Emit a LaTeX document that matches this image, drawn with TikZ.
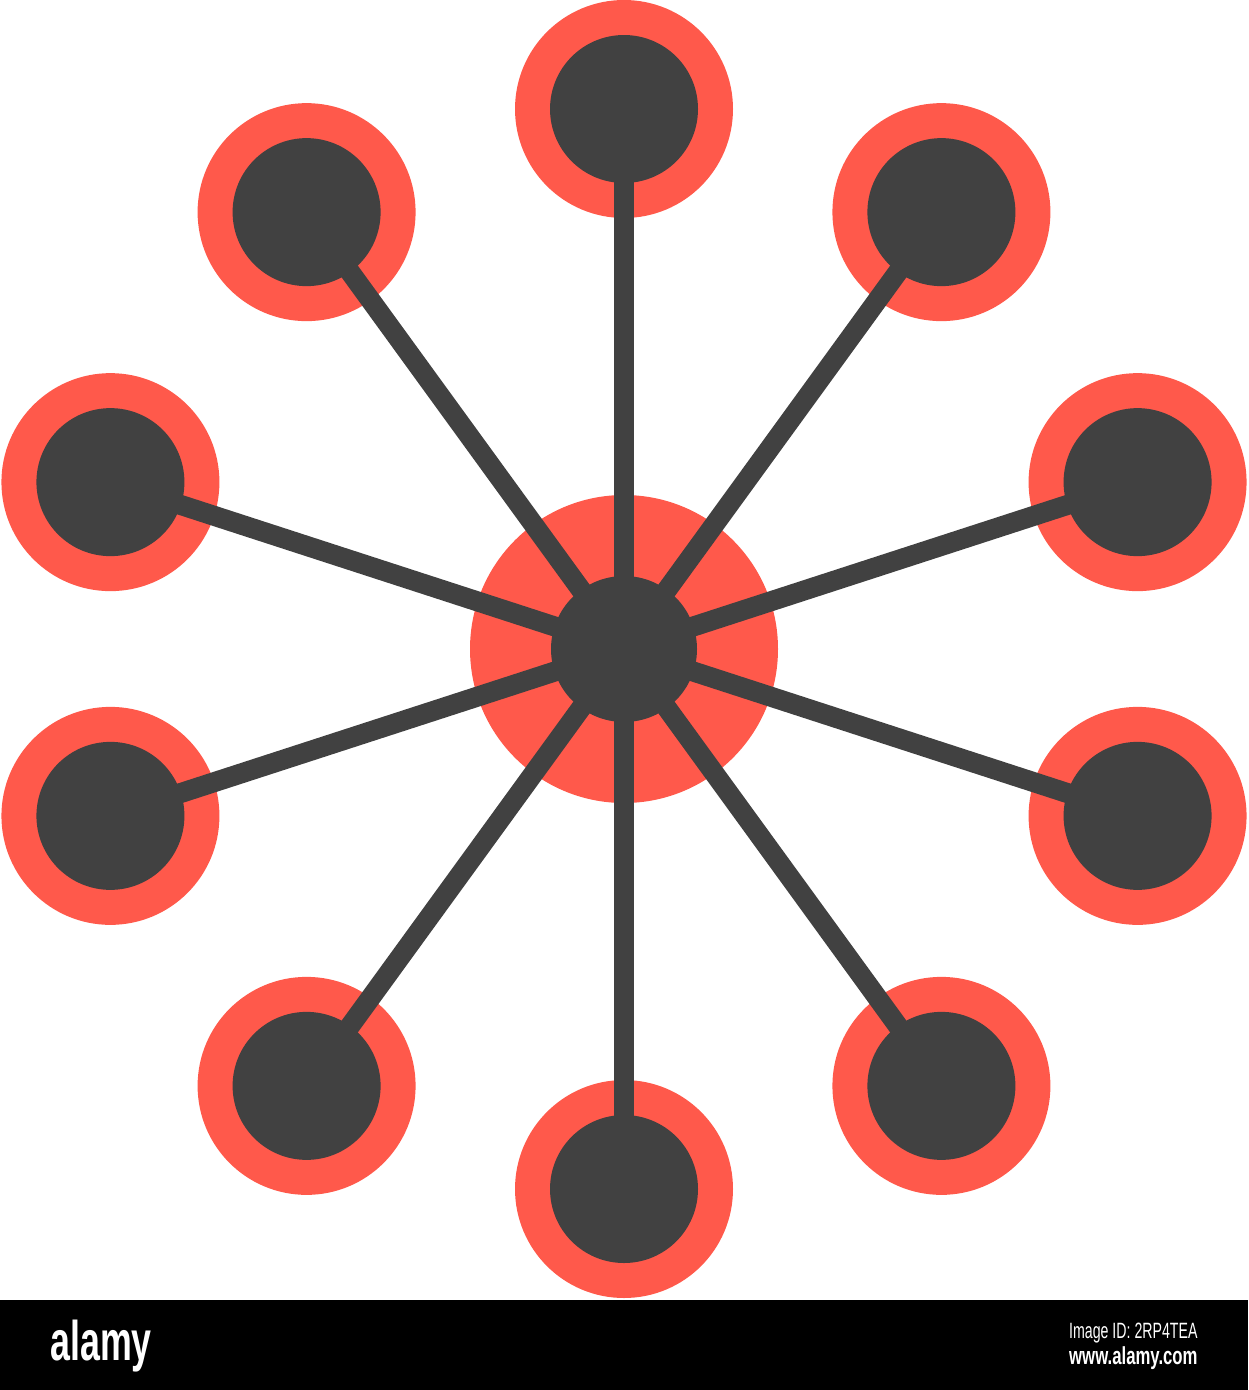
\documentclass[tikz,border=0pt]{standalone}
\usepackage{fontspec}
\setmainfont{Liberation Sans}
\usetikzlibrary{calc}
\definecolor{ringred}{RGB}{255,89,75}
\definecolor{hubgray}{RGB}{65,65,65}

\begin{document}
\begin{tikzpicture}[x=0.1mm,y=-0.1mm,
  reddisc/.style={circle,fill=ringred,inner sep=0pt,minimum size=21.8mm},
  darkdisc/.style={circle,fill=hubgray,inner sep=0pt,minimum size=14.8mm},
  spoke/.style={hubgray,line width=2mm}]
\useasboundingbox (0,0) rectangle (1248,1390);

\node[reddisc,minimum size=30.8mm] (C) at (624,649) {};
\foreach \i in {0,...,9}
  \node[reddisc] (R\i) at ($(C)+(90+36*\i:540)$) {};
\foreach \i in {0,...,9}
  \draw[spoke] (C.center)--(R\i.center);
\foreach \i in {0,...,9}
  \node[darkdisc] (D\i) at (R\i) {};
\node[darkdisc,minimum size=14.6mm] (Cd) at (C) {};

\fill[black] (0,1300) rectangle (1248,1390);
\node[white,anchor=base west,inner sep=0pt,xscale=0.64,font=\fontsize{15.9}{16}\selectfont\bfseries] (logo) at (50,1360) {alamy};
\node[white,anchor=base east,inner sep=0pt,xscale=0.64,font=\fontsize{6.3}{7}\selectfont] (id) at (1198,1338) {Image ID: 2RP4TEA};
\node[white,anchor=base east,inner sep=0pt,xscale=0.68,font=\fontsize{7}{8}\selectfont\bfseries] (www) at (1198,1364) {www.alamy.com};

\end{tikzpicture}
\end{document}
